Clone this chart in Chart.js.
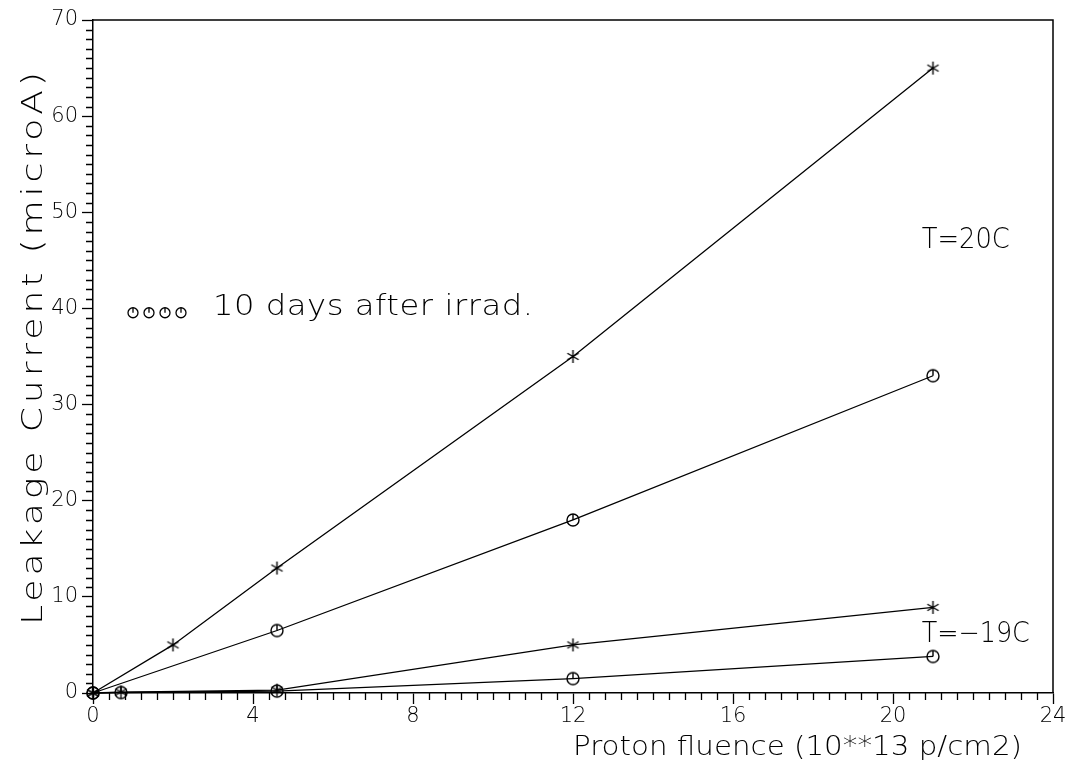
<!DOCTYPE html>
<html>
<head>
<meta charset="utf-8">
<script src="https://cdn.jsdelivr.net/npm/chart.js@4"></script>
<style>
  html, body { margin: 0; padding: 0; background: #ffffff; }
  #wrap { width: 1069px; height: 774px; position: relative; }
</style>
</head>
<body>
<div id="wrap"><canvas id="c"></canvas></div>
<script>
// Proton fluence (10**13 p/cm2) and leakage current (microA)
const fluenceWarmStar   = [0, 2, 4.6, 12, 21];
const currentWarmStar   = [0, 5, 13, 35, 65];
const fluenceWarmCircle = [0, 4.6, 12, 21];
const currentWarmCircle = [0, 6.5, 18, 33];
const fluenceCold       = [0, 0.7, 4.6, 12, 21];
const currentColdStar   = [0, 0.1, 0.3, 5, 8.9];
const currentColdCircle = [0, 0.05, 0.2, 1.5, 3.8];

const xTickValues = [0, 4, 8, 12, 16, 20, 24];
const yTickValues = [0, 10, 20, 30, 40, 50, 60, 70];

const labelWarm = 'T=20C';
const labelCold = 'T=\u221219C';
const legendText = '10 days after irrad.';
const xTitle = 'Proton fluence (10**13 p/cm2)';
const yTitle = 'Leakage Current (microA)';

const FONT = '"DejaVu Sans", "Liberation Sans", sans-serif';
const WEIGHT = '200';
const INK = '#000000';

function pairs(xs, ys) { return xs.map((x, i) => ({ x: x, y: ys[i] })); }

// marker glyphs: six-armed asterisk and circle with a stroke from the top to the centre
function makeStar(r) {
  const s = Math.ceil(r * 2 + 4), c = s / 2;
  const cv = document.createElement('canvas'); cv.width = s; cv.height = s;
  const g = cv.getContext('2d');
  g.strokeStyle = INK; g.lineWidth = 1.4; g.beginPath();
  for (let k = 0; k < 3; k++) {
    const a = Math.PI / 2 + k * Math.PI / 3;
    g.moveTo(c + r * Math.cos(a), c + r * Math.sin(a));
    g.lineTo(c - r * Math.cos(a), c - r * Math.sin(a));
  }
  g.stroke();
  return cv;
}
function drawTickCircle(g, cx, cy, r) {
  g.beginPath(); g.arc(cx, cy, r, 0, Math.PI * 2); g.stroke();
  g.beginPath(); g.moveTo(cx, cy - r); g.lineTo(cx, cy); g.stroke();
}
function makeCircle(r) {
  const s = Math.ceil(r * 2 + 4), c = s / 2;
  const cv = document.createElement('canvas'); cv.width = s; cv.height = s;
  const g = cv.getContext('2d');
  g.strokeStyle = INK; g.lineWidth = 1.4;
  drawTickCircle(g, c, c, r);
  return cv;
}
const starMark = makeStar(6.5);
const circleMark = makeCircle(6);

function series(data, mark) {
  return {
    data: data, showLine: true, borderColor: INK, borderWidth: 1.3,
    pointStyle: mark, pointRadius: 6, pointHoverRadius: 6, clip: false,
    backgroundColor: 'transparent'
  };
}

// wide stroke-style lettering: stretch glyphs up to maxStretch, then open the spacing
function wideText(ctx, text, x, y, size, width, maxStretch) {
  ctx.font = WEIGHT + ' ' + size + 'px ' + FONT;
  ctx.letterSpacing = '0px';
  const natural = ctx.measureText(text).width;
  const k = Math.min(width / natural, maxStretch);
  const ls = (width / k - natural) / (text.length - 1);
  ctx.save();
  ctx.translate(x, y);
  ctx.scale(k, 1);
  ctx.letterSpacing = Math.max(ls, 0).toFixed(2) + 'px';
  ctx.fillText(text, 0, 0);
  ctx.restore();
}

const framePlugin = {
  id: 'frame',
  afterDraw(chart) {
    const ctx = chart.ctx, a = chart.chartArea;
    const xs = chart.scales.x, ys = chart.scales.y;
    ctx.save();
    ctx.strokeStyle = INK; ctx.lineWidth = 1.5;
    // top and right edges of the frame
    ctx.beginPath();
    ctx.moveTo(a.left, a.top); ctx.lineTo(a.right, a.top); ctx.lineTo(a.right, a.bottom);
    ctx.stroke();
    // minor ticks
    ctx.lineWidth = 1.3;
    ctx.beginPath();
    for (let i = 0; i <= 70; i++) {
      if (i % 10 === 0) continue;
      const py = Math.round(ys.getPixelForValue(i)) + 0.5;
      ctx.moveTo(a.left, py); ctx.lineTo(a.left - 7, py);
    }
    for (let i = 0; i <= 60; i++) {
      if (i % 10 === 0) continue;
      const px = Math.round(xs.getPixelForValue(i * 0.4)) + 0.5;
      ctx.moveTo(px, a.bottom); ctx.lineTo(px, a.bottom + 7);
    }
    ctx.stroke();

    ctx.fillStyle = INK;
    ctx.textAlign = 'left'; ctx.textBaseline = 'alphabetic';
    wideText(ctx, labelWarm, xs.getPixelForValue(20.72), ys.getPixelForValue(46.3), 29, 88, 1.2);
    wideText(ctx, labelCold, xs.getPixelForValue(20.72), ys.getPixelForValue(5.3), 28, 108, 1.2);
    wideText(ctx, legendText, 213, ys.getPixelForValue(39.3), 28, 320, 1.15);

    // legend glyph row
    ctx.lineWidth = 1.3;
    const ly = ys.getPixelForValue(39.55);
    [133, 149, 165, 181].forEach(cx => drawTickCircle(ctx, cx, ly, 5));

    // axis titles
    wideText(ctx, xTitle, 573, 755, 27, 449, 1.2);
    ctx.save();
    ctx.translate(42, 625);
    ctx.rotate(-Math.PI / 2);
    wideText(ctx, yTitle, 0, 0, 29, 553, 1.25);
    ctx.restore();
    ctx.restore();
  }
};

const tickFont = { family: FONT, size: 21, weight: WEIGHT };

new Chart(document.getElementById('c'), {
  type: 'scatter',
  data: {
    datasets: [
      series(pairs(fluenceWarmStar, currentWarmStar), starMark),
      series(pairs(fluenceWarmCircle, currentWarmCircle), circleMark),
      series(pairs(fluenceCold, currentColdStar), starMark),
      series(pairs(fluenceCold, currentColdCircle), circleMark)
    ]
  },
  options: {
    responsive: true, maintainAspectRatio: false, animation: false,
    layout: { padding: { left: 0, top: 20, right: 16, bottom: 0 } },
    plugins: { legend: { display: false }, tooltip: { enabled: false } },
    scales: {
      x: {
        type: 'linear', min: 0, max: 24,
        afterBuildTicks(s) { s.ticks = xTickValues.map(v => ({ value: v })); },
        afterFit(s) { s.height = 81; },
        ticks: { color: INK, font: tickFont, padding: 0, maxRotation: 0, autoSkip: false },
        grid: { drawOnChartArea: false, drawTicks: true, tickLength: 11, tickColor: INK, tickWidth: 1.3 },
        border: { display: true, color: INK, width: 1.5 }
      },
      y: {
        type: 'linear', min: 0, max: 70,
        afterBuildTicks(s) { s.ticks = yTickValues.map(v => ({ value: v })); },
        afterFit(s) { s.width = 93; },
        ticks: { color: INK, font: tickFont, padding: 4, autoSkip: false },
        grid: { drawOnChartArea: false, drawTicks: true, tickLength: 11, tickColor: INK, tickWidth: 1.3 },
        border: { display: true, color: INK, width: 1.5 }
      }
    }
  },
  plugins: [framePlugin]
});
</script>
</body>
</html>
